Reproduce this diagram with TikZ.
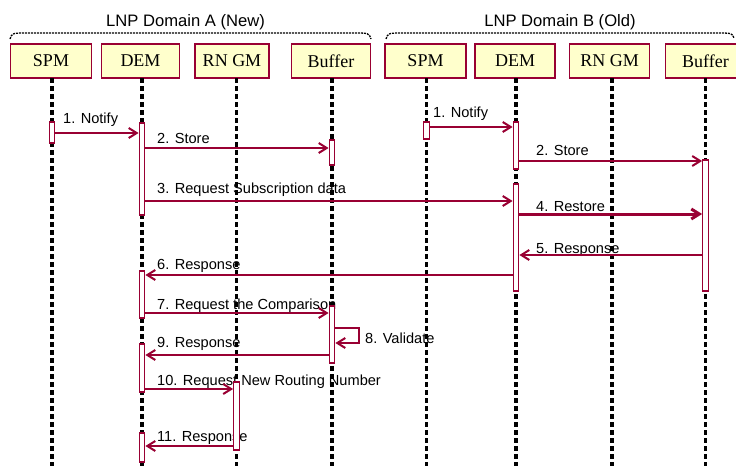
\documentclass[tikz,border=0pt]{standalone}
\usepackage{fontspec}
\setmainfont{Liberation Serif}
\setsansfont{Liberation Sans}
\usetikzlibrary{arrows.meta}
\definecolor{lnpred}{RGB}{153,0,51}
\definecolor{lnpyellow}{RGB}{255,255,204}

\begin{document}
\begin{tikzpicture}[x=1pt,y=-1pt,
    objbox/.style={draw=lnpred, line width=1.5pt, fill=lnpyellow, minimum height=34pt, inner sep=0pt, font=\fontsize{18}{20}\selectfont},
    lifeline/.style={line width=3.5pt, dash pattern=on 5pt off 3pt},
    actbar/.style={draw=lnpred, line width=1.3pt, fill=white, minimum width=5.5pt, inner sep=0pt},
    msg/.style={lnpred, line width=2pt, -{Straight Barb[length=8pt,width=10pt]}},
    msglabel/.style={anchor=base west, inner sep=0pt, font=\sffamily\fontsize{14.6}{16}\selectfont},
    domlabel/.style={anchor=base, inner sep=0pt, font=\sffamily\fontsize{16.6}{19}\selectfont},
    domline/.style={line width=1.3pt, dash pattern=on 2pt off 1pt}]
    \useasboundingbox (0,0) rectangle (736,466);
    \clip (0,0) rectangle (736,466);

    % Domains
    \node[domlabel] (domA) at (185.5,26) {LNP Domain A (New)};
    \node[domlabel] (domB) at (560,26) {LNP Domain B (Old)};
    \draw[domline] (10,39) .. controls (12,33) .. (28,33) -- (353,33) .. controls (369,33) .. (371,39);
    \draw[domline] (386,39) .. controls (388,33) .. (404,33) -- (716,33) .. controls (732,33) .. (734,38);

    % Message labels
    \foreach \x/\y/\txt [count=\i] in {63/123/1. Notify, 157/143/2. Store, 157/193/3. Request Subscription data,
        433/117/1. Notify, 536/155/2. Store, 536/211/4. Restore, 536/253/5. Response, 157/269/6. Response,
        157/309/7. Request the Comparison, 365/343/8. Validate, 157/347/9. Response,
        157/385/10. Request New Routing Number, 157/441/11. Response} {
      \node[msglabel] (lbl\i) at (\x,\y) {\txt};
    }

    % Objects with their lifelines
    \foreach \n/\bx/\w/\x/\t in {spmA/51/81/52/SPM, demA/140.5/78/142/DEM, rngmA/232/74/236.5/RN GM,
        bufA/331/79/332/Buffer, spmB/425.5/81/426.5/SPM, demB/515/80/516/DEM,
        rngmB/609.5/80/612/RN GM, bufB/705.5/80/705.5/Buffer} {
      \node[objbox, minimum width=\w] (\n) at (\bx,61) {\t};
      \draw[lifeline] (\x,78) -- (\x,466);
    }

    % Activation bars
    \foreach \n/\x/\ya/\yb in {aSpmA/52/122/143, aDemA1/142/123/215, aBufA1/332/140/165,
        aDemA2/142/271/318, aBufA2/332/306/363, aDemA3/142/344/392, aRngmA/236.5/382/450,
        aDemA4/142/433/462, aSpmB/426.5/122/139, aDemB1/516/122/169, aBufB/705.5/160/291,
        aDemB2/516/184/291} {
      \node[actbar, minimum height={\yb-\ya}] (\n) at (\x,{(\ya+\yb)/2}) {};
    }

    % Messages
    \foreach \f/\t/\y in {aSpmA.east/aDemA1.west/133, aDemA1.east/aBufA1.west/148,
        aDemA1.east/aDemB2.west/201, aSpmB.east/aDemB1.west/127, aDemB1.east/aBufB.west/161,
        aBufB.west/aDemB2.east/255, aDemB2.west/aDemA2.east/275, aDemA2.east/aBufA2.west/313,
        aBufA2.west/aDemA3.east/355, aDemA3.east/aRngmA.west/389, aRngmA.west/aDemA4.east/446} {
      \draw[msg] (\f |- 0,\y) -- (\t |- 0,\y);
    }
    % Restore (heavier line)
    \draw[msg, line width=3pt] (aDemB2.east |- 0,214) -- (aBufB.west |- 0,214);
    % Validate (self call)
    \draw[msg] (aBufA2.east |- 0,328) -| (359,343) -- (aBufA2.east |- 0,343);
\end{tikzpicture}
\end{document}
